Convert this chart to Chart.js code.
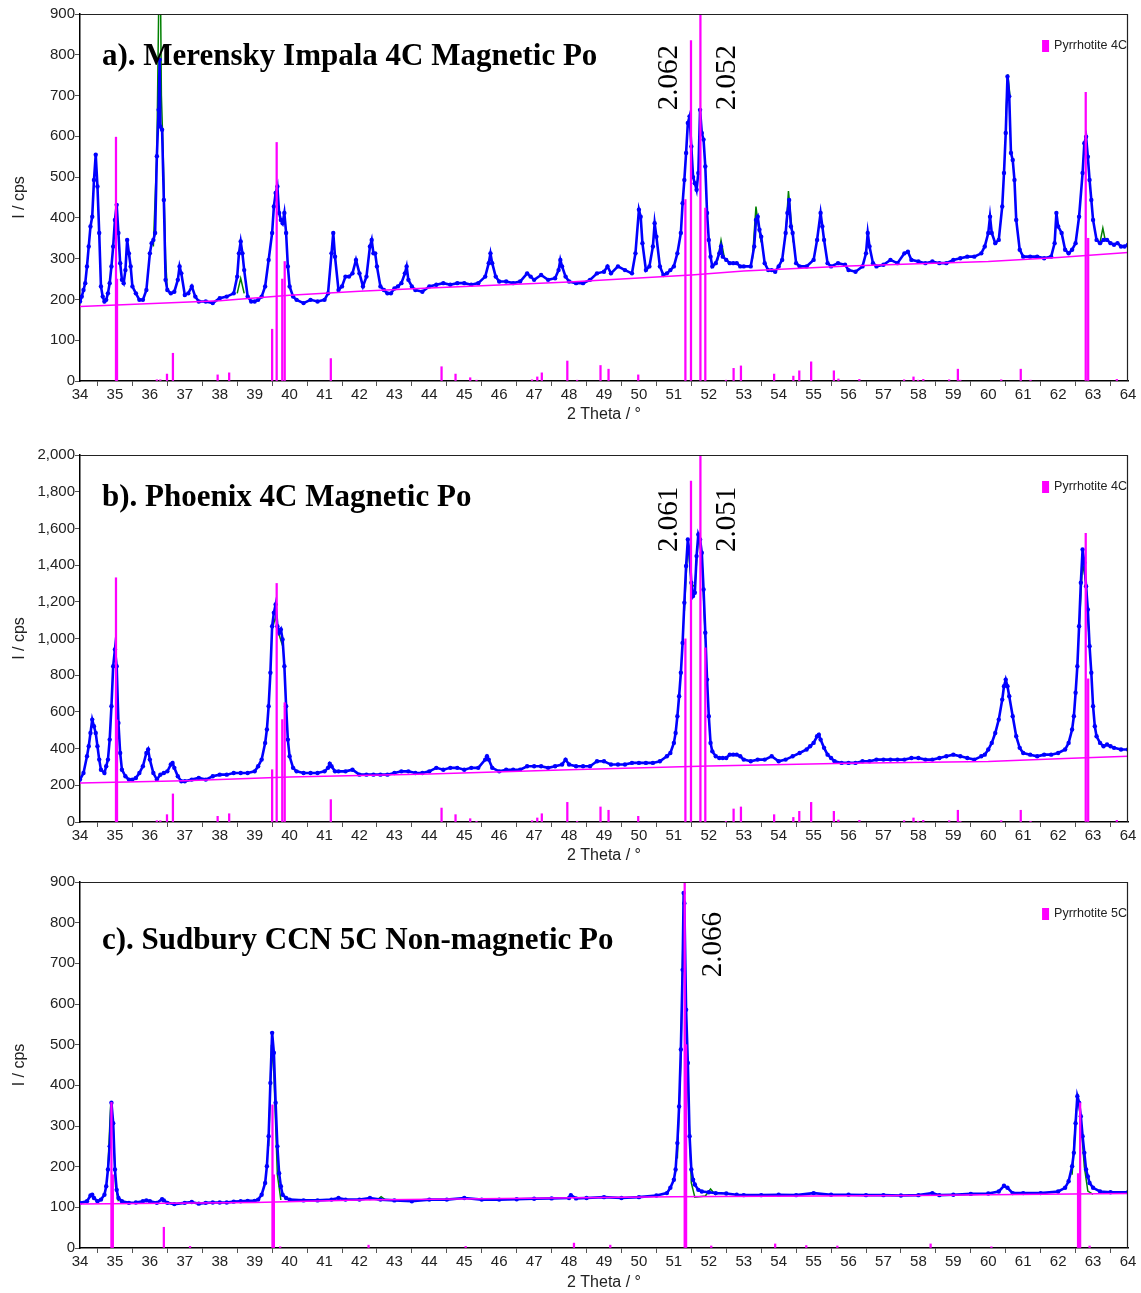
<!DOCTYPE html>
<html>
<head>
<meta charset="utf-8">
<script src="https://cdn.jsdelivr.net/npm/chart.js@4.4.1/dist/chart.umd.min.js"></script>
<style>
  html, body { margin: 0; padding: 0; background: #fff; }
  #wrap { position: relative; width: 1141px; height: 1293px; }
  .panel { position: absolute; left: 0; width: 1141px; }
</style>
</head>
<body>
<div id="wrap">
  <div class="panel" style="top:0;height:435px"><canvas id="chartA"></canvas></div>
  <div class="panel" style="top:441px;height:435px"><canvas id="chartB"></canvas></div>
  <div class="panel" style="top:868px;height:425px"><canvas id="chartC"></canvas></div>
</div>
<script>
const scanA = [
  [34,195],[34.05,207],[34.1,223],[34.15,240],[34.2,281],[34.25,330],[34.3,379],[34.35,403],[34.4,493],[34.45,555],
  [34.5,477],[34.55,363],[34.6,232],[34.65,207],[34.7,195],[34.75,199],[34.8,215],[34.85,240],[34.9,281],[34.95,330],
  [35,395],[35.05,432],[35.1,363],[35.15,289],[35.2,248],[35.25,240],[35.3,272],[35.35,346],[35.4,313],[35.45,281],
  [35.5,232],[35.6,215],[35.7,199],[35.8,199],[35.9,223],[36,313],[36.05,338],[36.1,346],[36.15,363],[36.2,551],
  [36.25,665],[36.28,788],[36.3,624],[36.35,616],[36.4,444],[36.45,248],[36.5,223],[36.6,215],[36.7,219],[36.8,248],
  [36.85,281],[36.9,264],[37,211],[37.1,215],[37.2,232],[37.3,207],[37.4,195],[37.6,195],[37.8,191],[38,203],
  [38.2,207],[38.4,215],[38.5,256],[38.55,313],[38.6,342],[38.65,313],[38.7,272],[38.8,207],[38.9,195],[39,195],
  [39.1,199],[39.2,207],[39.3,232],[39.4,297],[39.5,363],[39.55,428],[39.6,461],[39.65,477],[39.7,412],[39.75,395],
  [39.8,387],[39.85,412],[39.9,363],[39.95,281],[40,232],[40.1,207],[40.2,199],[40.4,191],[40.6,199],[40.8,195],
  [41,199],[41.1,215],[41.2,313],[41.25,363],[41.3,305],[41.4,223],[41.5,232],[41.6,256],[41.7,256],[41.8,264],
  [41.9,297],[42,264],[42.1,232],[42.2,256],[42.3,330],[42.35,346],[42.4,313],[42.45,313],[42.5,281],[42.6,232],
  [42.7,223],[42.8,215],[42.9,215],[43,227],[43.1,232],[43.2,240],[43.3,264],[43.35,281],[43.4,248],[43.5,232],
  [43.6,223],[43.8,219],[44,232],[44.2,236],[44.4,240],[44.6,236],[44.8,240],[45,240],[45.2,236],[45.4,240],
  [45.6,256],[45.7,289],[45.75,313],[45.8,289],[45.9,256],[46,244],[46.2,244],[46.4,240],[46.6,244],[46.8,264],
  [46.9,256],[47,248],[47.2,260],[47.4,248],[47.6,252],[47.7,272],[47.75,297],[47.8,281],[47.9,256],[48,244],
  [48.2,240],[48.4,240],[48.6,248],[48.8,264],[49,268],[49.1,281],[49.2,264],[49.4,281],[49.6,272],[49.8,264],
  [49.9,313],[50,420],[50.05,403],[50.1,338],[50.2,272],[50.3,281],[50.4,330],[50.45,387],[50.5,354],[50.6,281],
  [50.7,260],[50.8,264],[50.9,272],[51,281],[51.1,313],[51.2,363],[51.25,436],[51.3,493],[51.35,559],[51.4,633],
  [51.45,649],[51.5,575],[51.55,500],[51.6,485],[51.65,469],[51.7,510],[51.75,665],[51.8,608],[51.85,592],[51.9,526],
  [51.95,412],[52,346],[52.05,305],[52.1,281],[52.2,289],[52.3,313],[52.35,330],[52.4,305],[52.5,297],[52.6,289],
  [52.7,289],[52.8,289],[52.9,281],[53,281],[53.2,281],[53.3,330],[53.35,395],[53.4,403],[53.45,371],[53.5,354],
  [53.6,289],[53.7,272],[53.8,272],[53.9,268],[54,281],[54.1,297],[54.2,363],[54.25,412],[54.3,444],[54.35,379],
  [54.4,363],[54.5,289],[54.6,281],[54.8,281],[55,297],[55.1,346],[55.2,412],[55.25,379],[55.3,346],[55.4,289],
  [55.5,281],[55.7,289],[55.9,285],[56,272],[56.2,268],[56.4,281],[56.5,313],[56.55,363],[56.6,330],[56.7,289],
  [56.8,281],[57,285],[57.2,297],[57.4,289],[57.6,313],[57.7,317],[57.8,297],[58,293],[58.2,289],[58.4,293],
  [58.6,289],[58.8,289],[59,297],[59.2,301],[59.4,305],[59.6,305],[59.8,313],[59.9,330],[60,363],[60.05,403],
  [60.1,363],[60.2,338],[60.3,346],[60.4,428],[60.45,510],[60.5,608],[60.55,747],[60.6,698],[60.65,559],[60.7,542],
  [60.75,493],[60.8,395],[60.9,322],[61,305],[61.2,305],[61.4,305],[61.6,301],[61.8,305],[61.9,338],[61.95,412],
  [62,379],[62.1,363],[62.2,322],[62.3,313],[62.4,322],[62.5,338],[62.6,403],[62.7,510],[62.75,583],[62.8,599],
  [62.85,550],[62.9,493],[62.95,444],[63,395],[63.1,346],[63.2,338],[63.3,346],[63.4,346],[63.5,338],[63.6,334],
  [63.7,338],[63.8,330],[63.9,330],[64,334]
];
const scanB = [
  [34,231],[34.1,267],[34.2,358],[34.25,413],[34.3,485],[34.35,558],[34.4,522],[34.45,485],[34.5,413],[34.55,340],
  [34.6,285],[34.7,267],[34.75,304],[34.8,340],[34.85,449],[34.9,631],[34.95,849],[35,940],[35.05,849],[35.1,540],
  [35.15,376],[35.2,285],[35.3,249],[35.4,231],[35.5,231],[35.6,240],[35.7,267],[35.8,304],[35.9,376],[35.95,395],
  [36,340],[36.1,267],[36.2,231],[36.3,258],[36.4,267],[36.5,276],[36.6,313],[36.65,322],[36.7,295],[36.8,249],
  [36.9,222],[37,222],[37.2,231],[37.4,240],[37.6,231],[37.8,249],[38,258],[38.2,258],[38.4,267],[38.6,267],
  [38.8,267],[39,276],[39.1,304],[39.2,340],[39.3,431],[39.35,504],[39.4,631],[39.45,813],[39.5,1067],[39.55,1140],
  [39.6,1185],[39.65,1067],[39.7,1031],[39.75,1049],[39.8,995],[39.85,849],[39.9,631],[39.95,449],[40,358],[40.1,295],
  [40.2,276],[40.4,267],[40.6,267],[40.8,267],[41,276],[41.1,295],[41.15,318],[41.2,304],[41.3,276],[41.4,276],
  [41.6,276],[41.8,285],[42,258],[42.2,258],[42.4,258],[42.6,258],[42.8,258],[43,267],[43.2,276],[43.4,276],
  [43.6,267],[43.8,267],[44,276],[44.2,295],[44.4,285],[44.6,295],[44.8,295],[45,285],[45.2,295],[45.4,295],
  [45.6,340],[45.65,358],[45.7,340],[45.8,295],[46,276],[46.2,285],[46.4,285],[46.6,285],[46.8,304],[47,304],
  [47.2,304],[47.4,295],[47.6,304],[47.8,313],[47.9,340],[48,313],[48.2,304],[48.4,304],[48.6,304],[48.8,331],
  [49,331],[49.2,313],[49.4,313],[49.6,313],[49.8,322],[50,322],[50.2,322],[50.4,322],[50.6,331],[50.8,358],
  [50.9,376],[51,431],[51.05,485],[51.1,576],[51.15,685],[51.2,813],[51.25,976],[51.3,1195],[51.35,1395],[51.4,1540],
  [51.45,1467],[51.5,1304],[51.55,1231],[51.6,1249],[51.65,1449],[51.7,1567],[51.75,1540],[51.8,1467],[51.85,1267],[51.9,1031],
  [51.95,776],[52,576],[52.05,431],[52.1,385],[52.2,358],[52.3,349],[52.4,349],[52.5,349],[52.6,367],[52.7,367],
  [52.8,367],[52.9,358],[53,340],[53.2,331],[53.4,340],[53.6,340],[53.8,358],[54,331],[54.2,340],[54.4,358],
  [54.6,376],[54.8,395],[54.9,413],[55,431],[55.1,467],[55.15,476],[55.2,449],[55.3,404],[55.4,367],[55.5,349],
  [55.6,331],[55.8,322],[56,322],[56.2,322],[56.4,331],[56.6,331],[56.8,340],[57,340],[57.2,340],[57.4,340],
  [57.6,340],[57.8,349],[58,349],[58.2,340],[58.4,340],[58.6,349],[58.8,358],[59,367],[59.2,358],[59.4,349],
  [59.6,340],[59.8,358],[59.9,367],[60,395],[60.1,431],[60.2,485],[60.3,558],[60.4,667],[60.45,740],[60.5,776],
  [60.55,740],[60.6,685],[60.7,576],[60.8,467],[60.9,404],[61,376],[61.2,367],[61.4,358],[61.6,367],[61.8,367],
  [62,376],[62.2,395],[62.3,431],[62.4,504],[62.45,576],[62.5,704],[62.55,849],[62.6,1067],[62.65,1304],[62.7,1485],
  [62.75,1413],[62.8,1285],[62.85,1158],[62.9,958],[62.95,813],[63,631],[63.05,522],[63.1,467],[63.2,431],[63.3,413],
  [63.4,422],[63.5,413],[63.6,404],[63.8,395],[64,395]
];
const scanC = [
  [34,111],[34.2,115],[34.3,129],[34.35,131],[34.4,123],[34.5,115],[34.6,119],[34.7,131],[34.75,152],[34.8,193],
  [34.85,250],[34.9,357],[34.95,307],[35,193],[35.05,143],[35.1,123],[35.2,115],[35.4,111],[35.6,112],[35.8,115],
  [35.9,117],[36,115],[36.2,111],[36.35,120],[36.4,117],[36.5,111],[36.7,108],[37,111],[37.2,113],[37.4,109],
  [37.6,111],[37.8,112],[38,112],[38.2,112],[38.4,114],[38.6,115],[38.8,116],[39,116],[39.1,119],[39.2,131],
  [39.3,160],[39.35,201],[39.4,275],[39.45,406],[39.5,529],[39.55,480],[39.6,357],[39.65,250],[39.7,184],[39.75,152],
  [39.8,131],[39.9,123],[40,119],[40.4,117],[40.8,117],[41.2,119],[41.4,123],[41.6,119],[42,119],[42.3,123],
  [42.6,119],[43,117],[43.5,115],[44,119],[44.5,119],[45,123],[45.5,119],[46,119],[46.5,120],[47,121],
  [47.5,122],[48,123],[48.05,130],[48.2,122],[48.5,123],[49,125],[49.5,123],[50,125],[50.5,129],[50.8,135],
  [50.9,148],[51,168],[51.05,193],[51.1,258],[51.15,348],[51.2,488],[51.25,684],[51.28,873],[51.3,848],[51.35,586],
  [51.4,455],[51.45,275],[51.5,193],[51.55,168],[51.6,156],[51.7,143],[51.8,139],[52,137],[52.2,135],[52.5,134],
  [52.8,131],[53,130],[53.5,130],[54,131],[54.5,130],[55,135],[55.5,131],[56,131],[56.5,130],[57,130],
  [57.5,129],[58,130],[58.4,135],[58.6,130],[59,131],[59.5,133],[60,134],[60.3,139],[60.45,153],[60.55,148],
  [60.7,135],[61,135],[61.5,135],[62,139],[62.2,148],[62.3,164],[62.4,201],[62.45,234],[62.5,307],[62.55,373],
  [62.6,357],[62.65,324],[62.7,275],[62.75,234],[62.8,193],[62.85,176],[62.9,160],[63,148],[63.2,139],[63.5,137],
  [64,137]
];

// ---- fitted profile where it shows outside the scan (null = gap) ----
const fitA = [
  [36.1,330],[36.2,560],[36.25,900],[36.27,1000],[36.3,1000],[36.33,700],[36.38,560],[36.45,300],[36.5,220],[36.51,null],
  [38.5,215],[38.6,252],[38.7,215],[38.71,null],
  [52.25,295],[52.35,345],[52.45,300],[52.46,null],
  [53.25,300],[53.35,428],[53.42,380],[53.5,340],[53.51,null],
  [54.2,360],[54.28,466],[54.35,400],[54.42,340],[54.43,null],
  [60.5,640],[60.56,752],[60.62,700],[60.63,null],
  [63.2,340],[63.28,375],[63.35,345]
];
const fitB = [
  [39.5,1050],[39.6,1120],[39.7,1020],[39.8,960],[39.81,null],
  [51.3,1150],[51.4,1520],[51.5,1300],[51.6,1280],[51.7,1550],[51.8,1450],[51.9,1000],[51.91,null],
  [62.6,1050],[62.7,1410],[62.8,1300],[62.9,950]
];
const fitC = [
  [34.8,200],[34.88,355],[34.95,300],[35.02,150],[35.1,115],[35.11,null],
  [39.4,250],[39.48,500],[39.55,430],[39.65,180],[39.75,118],[39.76,null],
  [42.5,118],[42.62,126],[42.75,118],[42.76,null],
  [51.1,220],[51.2,460],[51.27,815],[51.33,600],[51.4,400],[51.5,160],[51.6,125],[51.9,128],[52.05,145],[52.2,130],[52.21,null],
  [62.4,180],[62.52,340],[62.58,368],[62.66,300],[62.75,200],[62.85,140],[63,132]
];

// ---- background ----
const bgThetaA = [34, 38, 40, 42, 44, 48, 51.5, 53, 56, 60, 62, 64];
const bgCountsA = [183, 197, 210, 220, 228, 243, 260, 270, 282, 293, 303, 315];
const bgThetaB = [34, 37, 40, 44, 48, 52, 56, 60, 62, 64];
const bgCountsB = [212, 225, 245, 262, 285, 305, 320, 330, 345, 358];
const bgThetaC = [34, 39, 42, 51, 55, 58, 60, 64];
const bgCountsC = [108, 112, 118, 126, 128, 129, 131, 134];

// ---- reference patterns (stick positions / heights) ----
const stickPos4C = [35.03, 35.06, 36.2, 36.3, 36.49, 36.66, 37.94, 38.27, 39.5, 39.63, 39.79, 39.86, 41.18,
  44.35, 44.75, 45.17, 45.35, 46.94, 47.09, 47.22, 47.95, 48.23, 48.9, 49.13, 49.98, 51.33, 51.49, 51.76, 51.9,
  52.49, 52.71, 52.92, 53.87, 54.42, 54.59, 54.93, 55.58, 55.71, 56.31, 57.59, 57.86, 57.99, 58.14, 58.88, 59.13,
  59.2, 60.37, 60.93, 61.21, 62.79, 62.86, 63.68];
const stickIntA = [598, 250, 3, 3, 17, 68, 15, 20, 127, 585, 250, 293, 55,
  35, 17, 8, 2, 3, 10, 20, 49, 2, 38, 29, 15, 445, 835, 1000, 424,
  2, 31, 37, 17, 12, 25, 47, 25, 5, 4, 3, 10, 2, 4, 3, 29,
  2, 3, 29, 2, 708, 350, 4];
const stickIntB = [1331, 556, 7, 7, 40, 153, 31, 45, 285, 1300, 558, 650, 122,
  76, 40, 18, 4, 7, 22, 45, 107, 4, 82, 64, 31, 998, 1858, 2200, 949,
  4, 71, 82, 40, 25, 58, 107, 58, 11, 9, 7, 22, 4, 9, 7, 64,
  4, 7, 64, 4, 1573, 780, 9];
const stickPos5C = [34.9, 34.94, 36.4, 37.15, 39.51, 39.55, 39.73, 42.26, 45.04, 48.14, 49.18, 51.31, 51.35,
  52.07, 53.9, 54.79, 55.68, 58.35, 60.09, 62.57, 62.63, 62.9];
const stickIntC = [358, 180, 51, 4, 352, 180, 3, 7, 4, 12, 7, 1000, 500,
  5, 10, 6, 5, 10, 3, 183, 357, 5];

// ---- labels ----
const titles = ['a). Merensky Impala 4C Magnetic Po', 'b). Phoenix 4C Magnetic Po', 'c). Sudbury CCN 5C Non-magnetic Po'];
const phases = ['Pyrrhotite 4C', 'Pyrrhotite 4C', 'Pyrrhotite 5C'];
const dLabelsA = ['2.062', '2.052'];
const dLabelsB = ['2.061', '2.051'];
const dLabelsC = ['2.066'];

const BLUE = '#0000ff', GREEN = '#008000', MAGENTA = '#ff00ff';
const SANS = '"Liberation Sans", Arial, sans-serif';
const SERIF = '"Liberation Serif", "Times New Roman", serif';

const decor = {
  id: 'decor',
  afterDatasetsDraw(chart, args, o) {
    const { ctx, chartArea: a, scales: { x, y } } = chart;
    ctx.save();
    // frame top / right
    ctx.strokeStyle = '#222';
    ctx.lineWidth = 1.2;
    ctx.beginPath();
    ctx.moveTo(a.left, a.top + 0.5);
    ctx.lineTo(a.right - 0.5, a.top + 0.5);
    ctx.lineTo(a.right - 0.5, a.bottom);
    ctx.stroke();

    ctx.fillStyle = '#000';
    ctx.textBaseline = 'middle';
    ctx.textAlign = 'left';
    ctx.font = 'bold 31px ' + SERIF;
    ctx.fillText(o.title, a.left + 22, a.top + o.titleDy);

    // d-spacing labels, rotated
    ctx.font = '29px ' + SERIF;
    o.dLabels.forEach((t, i) => {
      const px = x.getPixelForValue(o.dAt[i]);
      const py = y.getPixelForValue(o.dBase);
      ctx.save();
      ctx.translate(px, py);
      ctx.rotate(-Math.PI / 2);
      ctx.textAlign = 'left';
      ctx.fillText(t, 0, 0);
      ctx.restore();
    });

    // legend
    ctx.font = '12.5px ' + SANS;
    ctx.fillStyle = '#222';
    const w = ctx.measureText(o.phase).width;
    const tx = a.right - w - 1;
    const ty = a.top + 32;
    ctx.fillText(o.phase, tx, ty);
    ctx.fillStyle = MAGENTA;
    ctx.fillRect(tx - 12, ty - 6, 7, 12);
    ctx.restore();
  }
};

function pts(pairs) {
  return pairs.map(p => ({ x: p[0], y: p[1] }));
}
function zipPts(xs, ys) {
  return xs.map((v, i) => ({ x: v, y: ys[i] }));
}

function makePanel(id, p) {
  new Chart(document.getElementById(id), {
    type: 'line',
    data: {
      datasets: [
        {
          type: 'bar',
          label: p.phase,
          data: p.stickPos.map((v, i) => ({ x: v, y: [0, p.stickInt[i]] })),
          backgroundColor: MAGENTA,
          barThickness: 1.6,
          grouped: false,
          order: 0
        },
        {
          label: 'background',
          data: zipPts(p.bgTheta, p.bgCounts),
          borderColor: MAGENTA,
          borderWidth: 1.5,
          pointRadius: 0,
          tension: 0,
          order: 1
        },
        {
          label: 'observed',
          data: pts(p.scan),
          borderColor: BLUE,
          borderWidth: 2.6,
          pointRadius: 2.2,
          pointStyle: 'circle',
          pointBackgroundColor: BLUE,
          pointBorderWidth: 0,
          tension: 0,
          order: 2
        },
        {
          label: 'calculated',
          data: pts(p.fit),
          borderColor: GREEN,
          borderWidth: 1.5,
          pointRadius: 0,
          spanGaps: false,
          tension: 0,
          order: 3
        }
      ]
    },
    options: {
      responsive: true,
      maintainAspectRatio: false,
      animation: false,
      layout: { padding: { top: 14, right: 13, left: 0, bottom: 0 } },
      plugins: {
        legend: { display: false },
        tooltip: { enabled: false },
        decor: p
      },
      scales: {
        x: {
          type: 'linear',
          min: 34,
          max: 64,
          offset: false,
          afterFit: s => { s.height = p.xAxisH; },
          border: { display: true, color: '#000', width: 1.5 },
          grid: { display: true, drawOnChartArea: false, tickLength: 5, color: '#555' },
          ticks: {
            stepSize: 1, autoSkip: false, maxRotation: 0, padding: 0,
            color: '#222', font: { family: SANS, size: 15 }
          },
          title: {
            display: true, text: '2 Theta / °', color: '#222',
            font: { family: SANS, size: 16 }, padding: { top: 0, bottom: p.xTitlePad }
          }
        },
        y: {
          min: 0,
          max: p.yMax,
          afterFit: s => { s.width = 80; },
          border: { display: true, color: '#000', width: 1.5 },
          grid: { display: true, drawOnChartArea: false, tickLength: 5, color: '#555' },
          ticks: {
            stepSize: p.yStep, padding: 0, color: '#222',
            font: { family: SANS, size: 15 },
            callback: v => v.toLocaleString('en-US')
          },
          title: {
            display: true, text: 'I / cps', color: '#222',
            font: { family: SANS, size: 16 }, padding: { top: 10, bottom: 0 }
          }
        }
      }
    },
    plugins: [decor]
  });
}

makePanel('chartA', {
  title: titles[0], phase: phases[0], titleDy: 43,
  scan: scanA, fit: fitA, bgTheta: bgThetaA, bgCounts: bgCountsA,
  stickPos: stickPos4C, stickInt: stickIntA,
  dLabels: dLabelsA, dAt: [50.87, 52.53], dBase: 664,
  yMax: 900, yStep: 100, xAxisH: 54, xTitlePad: 11
});
makePanel('chartB', {
  title: titles[1], phase: phases[1], titleDy: 43,
  scan: scanB, fit: fitB, bgTheta: bgThetaB, bgCounts: bgCountsB,
  stickPos: stickPos4C, stickInt: stickIntB,
  dLabels: dLabelsB, dAt: [50.87, 52.53], dBase: 1471,
  yMax: 2000, yStep: 200, xAxisH: 54, xTitlePad: 11
});
makePanel('chartC', {
  title: titles[2], phase: phases[2], titleDy: 59,
  scan: scanC, fit: fitC, bgTheta: bgThetaC, bgCounts: bgCountsC,
  stickPos: stickPos5C, stickInt: stickIntC,
  dLabels: dLabelsC, dAt: [52.13], dBase: 666,
  yMax: 900, yStep: 100, xAxisH: 45, xTitlePad: 1
});
</script>
</body>
</html>
